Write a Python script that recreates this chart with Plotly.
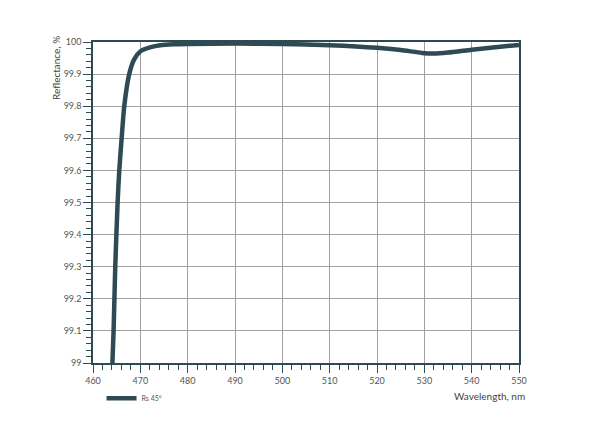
import plotly.graph_objects as go

wavelength = [464.1, 464.35, 464.7, 465.2, 465.55, 466.05, 466.6, 467.65, 468.7, 470.1,
              472.2, 474.2, 477, 480, 490, 500, 510, 520, 525, 529.5, 532, 535, 540, 545, 550]
reflectance = [99.0, 99.1, 99.3, 99.5, 99.6, 99.7, 99.8, 99.9, 99.946, 99.972,
               99.984, 99.99, 99.993, 99.994, 99.995, 99.994, 99.99, 99.982, 99.975, 99.966,
               99.964, 99.967, 99.976, 99.984, 99.991]
series_name = "Rs 45°"
x_ticks = [460, 470, 480, 490, 500, 510, 520, 530, 540, 550]
y_ticks = [99, 99.1, 99.2, 99.3, 99.4, 99.5, 99.6, 99.7, 99.8, 99.9, 100]
y_ticklabels = ["99", "99.1", "99.2", "99.3", "99.4", "99.5", "99.6", "99.7", "99.8", "99.9", "100"]

dark = "#2e4a53"
grid = "#a0a0a0"
font = "Lato"

fig = go.Figure()
fig.add_trace(go.Scatter(
    x=wavelength, y=reflectance, mode="lines", name=series_name,
    line=dict(color=dark, width=4.5, shape="spline", smoothing=0.6),
))

axis_common = dict(
    showline=True, linecolor=dark, linewidth=1.5, mirror=True,
    showgrid=True, gridcolor=grid, gridwidth=1,
    ticks="outside", ticklen=8, tickwidth=1, tickcolor=dark,
    tickfont=dict(family=font, size=9, color="#555555"),
    zeroline=False,
)

fig.update_xaxes(range=[460, 550], tickvals=x_ticks,
                 minor=dict(dtick=2, tick0=460, ticks="outside", ticklen=5, tickcolor=dark, showgrid=False),
                 **axis_common)
fig.update_yaxes(range=[99, 100], tickvals=y_ticks, ticktext=y_ticklabels,
                 minor=dict(dtick=0.02, tick0=99, ticks="outside", ticklen=5, tickcolor=dark, showgrid=False),
                 **axis_common)

fig.add_annotation(text="Reflectance, %", textangle=-90, xref="paper", yref="paper",
                   x=-0.087, y=1.025, xanchor="center", yanchor="top", showarrow=False,
                   font=dict(family=font, size=10, color="#444444"))
fig.add_annotation(text="Wavelength, nm", xref="paper", yref="paper",
                   x=1.019, y=-0.103, xanchor="right", yanchor="middle", showarrow=False,
                   font=dict(family=font, size=10, color="#444444"))

fig.update_layout(
    width=600, height=440,
    margin=dict(l=85, r=89, t=34, b=85),
    paper_bgcolor="white", plot_bgcolor="white",
    showlegend=True,
    legend=dict(orientation="h", x=0.02, y=-0.11, xanchor="left", yanchor="middle",
                font=dict(family=font, size=7, color="#555555"), bgcolor="rgba(0,0,0,0)"),
)

fig.write_html("out.html")
